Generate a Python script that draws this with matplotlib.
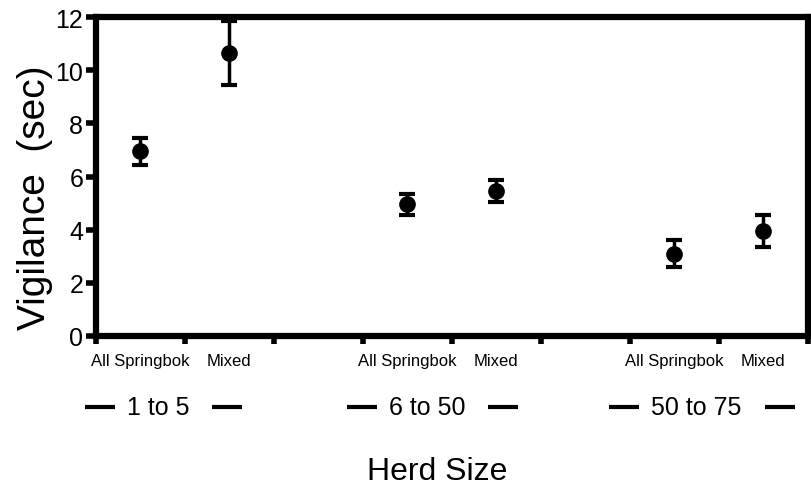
from matplotlib import pyplot as plt
from matplotlib.lines import Line2D

# Datos
grupos = ['1 to 5', '6 to 50', '50 to 75']
tipos = ['All Springbok', 'Mixed']
posiciones = [0.5, 1.5, 3.5, 4.5, 6.5, 7.5]
vigilancia = [6.95, 10.65, 4.95, 5.45, 3.1, 3.95]
errores = [0.5, 1.2, 0.4, 0.4, 0.5, 0.6]
centros_grupo = [0.7, 3.72, 6.75]

plt.rcParams['font.family'] = ['Liberation Sans', 'DejaVu Sans']

fig = plt.figure(figsize=(8.12, 4.89), dpi=100)
ax = fig.add_axes([0.118, 0.311, 0.877, 0.652])

ax.errorbar(posiciones, vigilancia, yerr=errores, fmt='o', color='black',
            markersize=11, elinewidth=2.5, capsize=5.5, capthick=3)

ax.set_xlim(0, 8)
ax.set_ylim(0, 12)
ax.set_yticks(range(0, 13, 2))
ax.set_xticks(range(0, 9))
ax.set_xticklabels([])
ax.set_xticks(posiciones, minor=True)
ax.set_xticklabels(tipos * 3, minor=True, fontsize=12)
ax.tick_params(axis='x', which='minor', length=0, pad=12)
ax.tick_params(axis='x', which='major', length=6, width=4, direction='out')
ax.tick_params(axis='y', length=7, width=4, labelsize=18, pad=2)

for lado in ax.spines.values():
    lado.set_linewidth(4.5)

ax.set_ylabel('Vigilance  (sec)', fontsize=28)
ax.yaxis.set_label_coords(-0.06, 0.437)

# etiquetas de grupo con guiones a cada lado
trans = ax.get_xaxis_transform()
textos = []
for centro, nombre in zip(centros_grupo, grupos):
    textos.append(ax.text(centro, -0.223, nombre, transform=trans, ha='center',
                          va='center', fontsize=18))

fig.canvas.draw()
inv = ax.transData.inverted()
for t in textos:
    bb = t.get_window_extent()
    for a, b in ((bb.x0 - 42, bb.x0 - 12), (bb.x1 + 23, bb.x1 + 53)):
        xa = inv.transform((a, 0))[0]
        xb = inv.transform((b, 0))[0]
        ax.add_line(Line2D([xa, xb], [-0.223, -0.223], transform=trans, color='black',
                           linewidth=3, solid_capstyle='butt', clip_on=False))

fig.text(0.538, 0.035, 'Herd Size', ha='center', va='center', fontsize=23)

fig.savefig('out.png', dpi=100)
